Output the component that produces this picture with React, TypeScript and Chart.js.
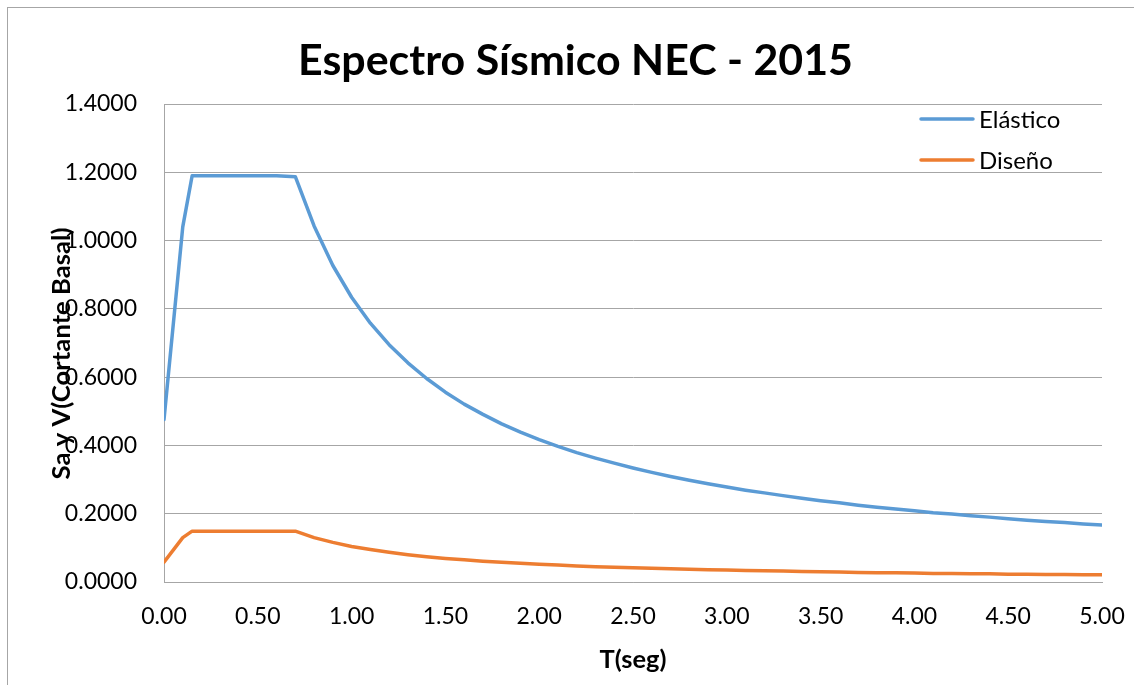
import React, { useEffect, useRef } from "react";
import { Chart, registerables } from "chart.js";

Chart.register(...registerables);

const titleText = "Espectro Sísmico NEC - 2015";
const xTitle = "T(seg)";
const yTitle = "Sa y V(Cortante Basal)";
const seriesNames = ["Elástico", "Diseño"];
const seriesColors = ["#5B9BD5", "#ED7D31"];

const periods = [
  0, 0.1, 0.15, 0.2, 0.3, 0.4, 0.5, 0.6, 0.7, 0.8, 0.9, 1.0, 1.1, 1.2, 1.3, 1.4, 1.5,
  1.6, 1.7, 1.8, 1.9, 2.0, 2.1, 2.2, 2.3, 2.4, 2.5, 2.6, 2.7, 2.8, 2.9, 3.0, 3.1, 3.2,
  3.3, 3.4, 3.5, 3.6, 3.7, 3.8, 3.9, 4.0, 4.1, 4.2, 4.3, 4.4, 4.5, 4.6, 4.7, 4.8, 4.9, 5.0,
];

const elastico = [
  0.476, 1.04, 1.19, 1.19, 1.19, 1.19, 1.19, 1.19, 1.187, 1.043, 0.927, 0.834, 0.758,
  0.695, 0.642, 0.596, 0.556, 0.521, 0.491, 0.463, 0.439, 0.417, 0.397, 0.379, 0.363,
  0.348, 0.334, 0.321, 0.309, 0.298, 0.288, 0.278, 0.269, 0.261, 0.253, 0.245, 0.238,
  0.232, 0.225, 0.219, 0.214, 0.209, 0.203, 0.199, 0.194, 0.19, 0.185, 0.181, 0.177,
  0.174, 0.17, 0.167,
];

const diseno = [
  0.058, 0.13, 0.149, 0.149, 0.149, 0.149, 0.149, 0.149, 0.149, 0.13, 0.116, 0.104,
  0.095, 0.087, 0.08, 0.074, 0.069, 0.065, 0.061, 0.058, 0.055, 0.052, 0.05, 0.047,
  0.045, 0.043, 0.042, 0.04, 0.039, 0.037, 0.036, 0.035, 0.034, 0.033, 0.032, 0.031,
  0.03, 0.029, 0.028, 0.027, 0.027, 0.026, 0.025, 0.025, 0.024, 0.024, 0.023, 0.023,
  0.022, 0.022, 0.021, 0.021,
];

const FONT = "Lato, 'Open Sans', sans-serif";

function fitSize(ctx: CanvasRenderingContext2D, text: string, weight: string, target: number) {
  ctx.font = `${weight} 40px ${FONT}`;
  const w = ctx.measureText(text).width;
  return (40 * target) / w;
}

const decorPlugin = {
  id: "decor",
  beforeDraw(chart: any) {
    const ctx = chart.ctx as CanvasRenderingContext2D;
    ctx.save();
    ctx.fillStyle = "#ffffff";
    ctx.fillRect(0, 0, chart.width, chart.height);
    ctx.strokeStyle = "#a6a6a6";
    ctx.lineWidth = 1;
    ctx.strokeRect(7.5, 7.5, chart.width + 20, chart.height + 20);
    ctx.restore();
  },
  afterDraw(chart: any) {
    const ctx = chart.ctx as CanvasRenderingContext2D;
    const area = chart.chartArea;
    ctx.save();
    ctx.fillStyle = "#000000";

    // title
    const ts = fitSize(ctx, titleText, "bold", 555);
    ctx.font = `bold ${ts}px ${FONT}`;
    ctx.textAlign = "center";
    ctx.textBaseline = "alphabetic";
    ctx.fillText(titleText, 575.5, 75);

    // x title
    const xs = fitSize(ctx, xTitle, "bold", 67);
    ctx.font = `bold ${xs}px ${FONT}`;
    ctx.fillText(xTitle, (area.left + area.right) / 2, 668);

    // y title
    const ys = fitSize(ctx, yTitle, "bold", 252);
    ctx.font = `bold ${ys}px ${FONT}`;
    ctx.translate(70, 353.5);
    ctx.rotate(-Math.PI / 2);
    ctx.textAlign = "center";
    ctx.textBaseline = "alphabetic";
    ctx.fillText(yTitle, 0, 0);
    ctx.setTransform(1, 0, 0, 1, 0, 0);

    // legend
    const rows = [119, 160];
    ctx.textAlign = "left";
    ctx.textBaseline = "middle";
    chart.data.datasets.forEach((ds: any, i: number) => {
      const y = rows[i];
      ctx.strokeStyle = ds.borderColor;
      ctx.lineWidth = 3.5;
      ctx.lineCap = "round";
      ctx.beginPath();
      ctx.moveTo(921, y);
      ctx.lineTo(973, y);
      ctx.stroke();
      ctx.fillStyle = "#000000";
      ctx.font = `24px ${FONT}`;
      ctx.fillText(ds.label, 979, y + 1);
    });
    ctx.restore();
  },
};

export default function App() {
  const ref = useRef<HTMLCanvasElement | null>(null);

  useEffect(() => {
    if (!ref.current) return;
    const mk = (vals: number[]) => periods.map((t, i) => ({ x: t, y: vals[i] }));
    const chart = new Chart(ref.current, {
      type: "line",
      data: {
        datasets: [
          {
            label: seriesNames[0],
            data: mk(elastico),
            borderColor: seriesColors[0],
            backgroundColor: seriesColors[0],
            borderWidth: 3.5,
            pointRadius: 0,
            tension: 0,
            borderCapStyle: "round",
            borderJoinStyle: "round",
          },
          {
            label: seriesNames[1],
            data: mk(diseno),
            borderColor: seriesColors[1],
            backgroundColor: seriesColors[1],
            borderWidth: 3.5,
            pointRadius: 0,
            tension: 0,
            borderCapStyle: "round",
            borderJoinStyle: "round",
          },
        ],
      },
      options: {
        animation: false,
        responsive: false,
        maintainAspectRatio: false,
        layout: { padding: { left: 0, top: 104, right: 32, bottom: 23 } },
        plugins: {
          legend: { display: false },
          title: { display: false },
          tooltip: { enabled: false },
        },
        scales: {
          x: {
            type: "linear",
            min: 0,
            max: 5,
            afterFit: (s: any) => {
              s.height = 80;
              s.paddingLeft = 0;
              s.paddingRight = 0;
            },
            grid: { color: "rgba(0,0,0,0)", drawTicks: false },
            border: { display: true, color: "#a6a6a6", width: 1 },
            ticks: {
              stepSize: 0.5,
              padding: 21,
              color: "#000000",
              font: { family: FONT, size: 23 },
              maxRotation: 0,
              callback: (v: any) => Number(v).toFixed(2),
            },
          },
          y: {
            min: 0,
            max: 1.4,
            afterFit: (s: any) => {
              s.width = 164;
              s.paddingTop = 0;
              s.paddingBottom = 0;
            },
            grid: { color: "#a6a6a6", lineWidth: 1, drawTicks: false },
            border: { display: true, color: "#a6a6a6", width: 1 },
            ticks: {
              stepSize: 0.2,
              padding: 27,
              color: "#000000",
              font: { family: FONT, size: 23 },
              callback: (v: any) => Number(v).toFixed(4),
            },
          },
        },
      },
      plugins: [decorPlugin],
    });
    return () => chart.destroy();
  }, []);

  return (
    <div style={{ position: "absolute", left: 0, top: 0, width: 1134, height: 685, background: "#fff" }}>
      <canvas ref={ref} width={1134} height={685} />
    </div>
  );
}
